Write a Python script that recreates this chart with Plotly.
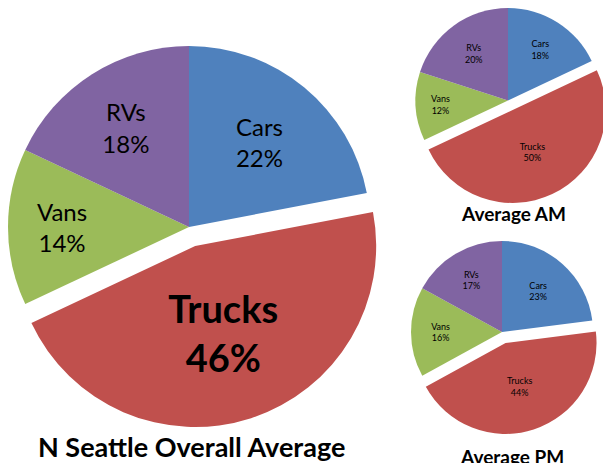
import math
import plotly.graph_objects as go

categories = ["Cars", "Trucks", "Vans", "RVs"]
overall_pct = [22, 46, 14, 18]
am_pct = [18, 50, 12, 20]
pm_pct = [23, 44, 16, 17]
titles = ["N Seattle Overall Average", "Average AM", "Average PM"]
colors = ["#4F81BD", "#C0504D", "#9BBB59", "#8064A2"]

W, H = 611, 463
OFF = 8  # page body margin offset
FONT = "Lato"
EXPLODED = "Trucks"

fig = go.Figure()


def dom(x, y, r):
    x -= OFF
    y -= OFF
    return dict(x=[max(0, (x - r) / W), min(1, (x + r) / W)],
                y=[max(0, 1 - (y + r) / H), min(1, 1 - (y - r) / H)])


def add_pie(values, cx, cy, r, pull_px, size, ex_size, ex_bold):
    k = categories.index(EXPLODED)
    total = sum(values)
    mid = (sum(values[:k]) + values[k] / 2) / total * 2 * math.pi
    dx = pull_px * math.sin(mid)
    dy = -pull_px * math.cos(mid)
    clear = "rgba(0,0,0,0)"
    base_cols = [clear if i == k else c for i, c in enumerate(colors)]
    ex_cols = [c if i == k else clear for i, c in enumerate(colors)]
    tpl = "%{label}<br>%{value}%"
    base_tpl = ["" if i == k else tpl for i in range(len(categories))]
    ex_t = "<b>" + tpl + "</b>" if ex_bold else tpl
    ex_tpl = [ex_t if i == k else "" for i in range(len(categories))]
    common = dict(labels=categories, values=values, sort=False, direction="clockwise",
                  rotation=0, textposition="inside", insidetextorientation="horizontal",
                  showlegend=False, hoverinfo="label+value", marker_line_width=0)
    fig.add_trace(go.Pie(domain=dom(cx, cy, r), marker_colors=base_cols,
                         texttemplate=base_tpl,
                         textfont=dict(family=FONT, size=size, color="#000000"),
                         **common))
    fig.add_trace(go.Pie(domain=dom(cx + dx, cy + dy, r), marker_colors=ex_cols,
                         texttemplate=ex_tpl,
                         textfont=dict(family=FONT, size=ex_size, color="#000000"),
                         **common))


add_pie(overall_pct, 189, 227, 181, 20, 24, 38, True)
add_pie(am_pct, 508, 100, 93, 11, 9, 9, False)
add_pie(pm_pct, 502, 332, 91, 11.5, 9, 9, False)

title_pos = [(191, 446, 27), (513, 214, 19), (512, 456, 19)]
for t, (x, y, s) in zip(titles, title_pos):
    fig.add_annotation(x=(x - OFF) / W, y=1 - (y - OFF) / H, xref="paper", yref="paper",
                       text="<b>" + t + "</b>", showarrow=False,
                       xanchor="center", yanchor="middle",
                       font=dict(family=FONT, size=s, color="#000000"))

fig.update_layout(width=W, height=H, margin=dict(l=0, r=0, t=0, b=0),
                  paper_bgcolor="white", plot_bgcolor="white")
fig.write_html("out.html")
